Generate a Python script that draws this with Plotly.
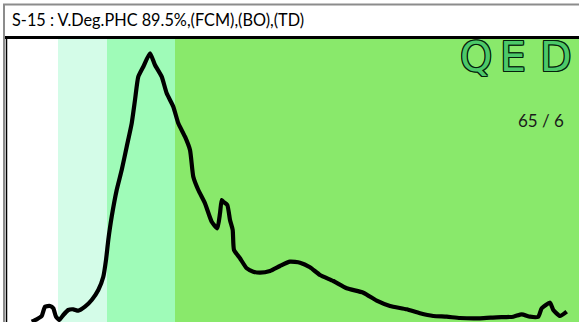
import plotly.graph_objects as go

# Trace: channel position vs. signal intensity
channel = [24.7, 29.7, 34.7, 38, 43, 46.3, 49, 52.3, 56.3, 61.3, 66.3, 71.3, 78, 84.7,
           91.3, 96.3, 99, 101.3, 104.7, 109.7, 114.7, 119.7, 124.7, 128, 131.3, 136.3,
           143, 148, 154.7, 159.7, 166.3, 171.3, 178, 183, 186.3, 191.3, 198, 204.7,
           210.3, 213, 214.7, 216.3, 220.3, 223, 225.7, 227, 233, 239.7, 246.3, 253,
           263, 273, 283, 293, 303, 313, 326.3, 339.7, 356.3, 369.7, 383, 399.7, 413,
           426.3, 439.7, 453, 473, 489.7, 506.3, 514.7, 523, 531.3, 534.7, 543, 546.3,
           553, 559.7]
signal = [0.3, 2.7, 6, 15.3, 16, 13.7, 5.3, 2, 7, 12, 12.7, 11.3, 15.3, 22,
          32, 45.3, 62, 82, 105.3, 132, 152, 175.3, 198.7, 222, 245.3, 255.3,
          268.7, 257, 245.3, 228.7, 215.3, 198.7, 185.3, 172, 145.3, 132, 118.7, 100.3,
          93.7, 108.7, 122, 120.3, 117, 102, 92, 72, 63.7, 53.7, 50.3, 49.3,
          51, 56, 60.3, 59.3, 54.7, 47, 41, 33.7, 29.3, 21.3, 16, 12.7, 8.7,
          6, 5.3, 4, 3.7, 4.7, 5.3, 7.7, 5.3, 5.3, 13.7, 19.3, 12,
          6, 10.3]

# Shaded ranges (channel units) and their fills
band_edges = [0, 51, 100, 168, 572]
band_colors = ["#ffffff", "#d4fce8", "#9ffbb8", "#89e96b"]

title_text = "S-15 : V.Deg.PHC 89.5%,(FCM),(BO),(TD)"
ratio_text = "65 / 6"
logo_letters = ["Q", "E", "D"]

W, H = 579, 322
L, T = 7, 39
PW, PH = W - L, H - T


def px(x):
    return (x - L) / PW


def py(y):
    return (H - y) / PH


fig = go.Figure()
fig.add_trace(go.Scatter(
    x=channel, y=signal, mode="lines",
    line=dict(color="#000000", width=4.2, shape="spline", smoothing=0.5),
    hoverinfo="skip", showlegend=False,
))

shapes = []
for i, c in enumerate(band_colors):
    shapes.append(dict(type="rect", xref="x", yref="paper",
                       x0=band_edges[i], x1=band_edges[i + 1], y0=0, y1=1,
                       fillcolor=c, line=dict(width=0), layer="below"))

# Frame lines around the title bar and panel
shapes += [
    dict(type="line", xref="paper", yref="paper", x0=px(3), x1=px(W), y0=py(4.5), y1=py(4.5),
         line=dict(color="#8c8c8c", width=2)),
    dict(type="line", xref="paper", yref="paper", x0=px(4), x1=px(4), y0=py(4), y1=py(H),
         line=dict(color="#8c8c8c", width=2)),
    dict(type="line", xref="paper", yref="paper", x0=px(5), x1=px(W), y0=py(37.5), y1=py(37.5),
         line=dict(color="#000000", width=3)),
    dict(type="line", xref="paper", yref="paper", x0=px(6.5), x1=px(6.5), y0=py(37), y1=py(H),
         line=dict(color="#000000", width=1.5)),
]

annotations = [
    dict(text=title_text, xref="paper", yref="paper", x=px(10), y=py(20),
         xanchor="left", yanchor="middle", showarrow=False,
         font=dict(family="Lato", size=16.3, color="#000000")),
    dict(text=ratio_text, xref="paper", yref="paper", x=px(541), y=py(120),
         xanchor="center", yanchor="middle", showarrow=False,
         font=dict(family="Lato", size=17, color="#1a1a1a")),
]

outline = ("1px 0 0 #06200c, -1px 0 0 #06200c, 0 1px 0 #06200c, 0 -1px 0 #06200c, "
           "1px 1px 0 #06200c, -1px -1px 0 #06200c, 1px -1px 0 #06200c, -1px 1px 0 #06200c")
for letter, cx in zip(logo_letters, [476, 513, 556]):
    annotations.append(dict(text=letter, xref="paper", yref="paper", x=px(cx), y=py(57),
                            xanchor="center", yanchor="middle", showarrow=False,
                            font=dict(family="DejaVu Sans", size=41, color="#4cc969",
                                      shadow=outline)))

fig.update_layout(
    width=W, height=H,
    margin=dict(l=L, r=0, t=T, b=0),
    paper_bgcolor="#ffffff", plot_bgcolor="#ffffff",
    xaxis=dict(range=[0, PW], visible=False, fixedrange=True),
    yaxis=dict(range=[0, PH], visible=False, fixedrange=True),
    shapes=shapes, annotations=annotations,
    showlegend=False,
)

fig.write_html("out.html", config={"displayModeBar": False})
